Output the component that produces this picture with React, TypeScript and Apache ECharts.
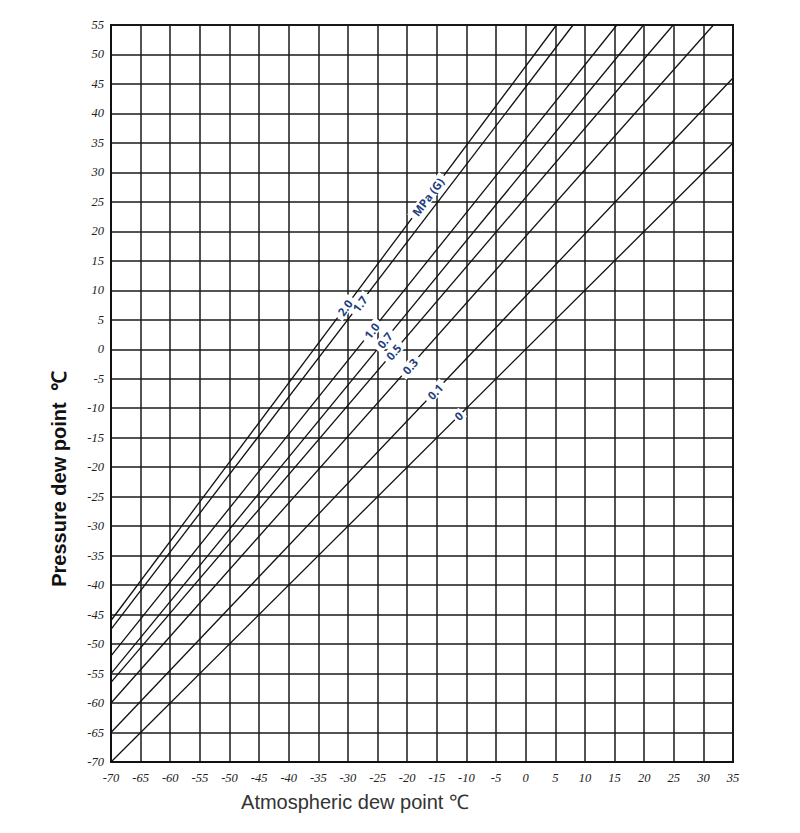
import { useEffect, useRef } from 'react'
import * as echarts from 'echarts'

// pressure lines, MPa (G)
const pressures = ['0', '0.1', '0.3', '0.5', '0.7', '1.0', '1.7', '2.0']
// pressure dew point where each line starts (atmospheric dew point -70)
const startDew = [-70, -65, -60, -56.5, -55, -52, -47.5, -46]
// where each line leaves the plot
const endAtm = [35, 35, 31.7, 24.9, 19.9, 15.4, 8.0, 5.2]
const endDew = [35, 46, 55, 55, 55, 55, 55, 55]
// atmospheric dew point at which the label sits on each line
const labelAtm = [-11.3, -15.3, -19.5, -22.3, -23.8, -26, -28, -30.5]
const unitLabel = 'MPa (G)'
const unitAtm = -16.5

const X_MIN = -70
const X_MAX = 35
const Y_MIN = -70
const Y_MAX = 55

const onLine = (i: number, x: number) => {
  const k = (endDew[i] - startDew[i]) / (endAtm[i] - X_MIN)
  return startDew[i] + (x - X_MIN) * k
}

export default function App() {
  const chartRef = useRef<HTMLDivElement>(null)

  useEffect(() => {
    if (!chartRef.current) return
    const chart = echarts.init(chartRef.current, null, { renderer: 'svg' })

    const lineSeries = pressures.map((p, i) => ({
      name: p,
      type: 'line',
      symbol: 'none',
      silent: true,
      lineStyle: { color: '#111', width: 1.3 },
      data: [
        [X_MIN, startDew[i]],
        [endAtm[i], endDew[i]],
      ],
      z: 2,
    }))

    const tickLabel = {
      fontStyle: 'italic' as const,
      fontFamily: 'Liberation Serif',
      fontSize: 12.5,
      color: '#222',
    }

    const option: any = {
      animation: false,
      grid: {
        left: 111,
        right: 67,
        top: 25,
        bottom: 71,
        show: true,
        borderColor: '#111',
        borderWidth: 2,
        backgroundColor: '#fff',
      },
      xAxis: {
        type: 'value',
        min: X_MIN,
        max: X_MAX,
        interval: 5,
        axisLine: { show: true, onZero: false, lineStyle: { color: '#111', width: 2 } },
        axisTick: { show: false },
        axisLabel: { ...tickLabel, margin: 9 },
        splitLine: { show: true, lineStyle: { color: '#1a1a1a', width: 1.5 } },
      },
      yAxis: {
        type: 'value',
        min: Y_MIN,
        max: Y_MAX,
        interval: 5,
        axisLine: { show: true, onZero: false, lineStyle: { color: '#111', width: 2 } },
        axisTick: { show: false },
        axisLabel: { ...tickLabel, margin: 7 },
        splitLine: { show: true, lineStyle: { color: '#1a1a1a', width: 1.5 } },
      },
      series: lineSeries,
    }

    chart.setOption(option)

    // line labels: white box breaking the line, blue text along it
    const makeLabel = (i: number, atm: number, text: string) => {
      const c = chart.convertToPixel({ gridIndex: 0 }, [atm, onLine(i, atm)]) as number[]
      const a = chart.convertToPixel({ gridIndex: 0 }, [X_MIN, startDew[i]]) as number[]
      const b = chart.convertToPixel({ gridIndex: 0 }, [endAtm[i], endDew[i]]) as number[]
      const angle = Math.atan2(a[1] - b[1], b[0] - a[0])
      const w = text.length * 7 + 4
      return {
        type: 'group',
        x: c[0],
        y: c[1],
        rotation: angle,
        z: 50,
        children: [
          {
            type: 'rect',
            z: 50,
            shape: { x: -w / 2, y: -6, width: w, height: 12 },
            style: { fill: '#ffffff' },
          },
          {
            type: 'text',
            z: 51,
            style: {
              text,
              x: 0,
              y: 0,
              font: 'bold 11.5px "Open Sans", sans-serif',
              fill: '#1f3f7f',
              textAlign: 'center',
              textVerticalAlign: 'middle',
            },
          },
        ],
      }
    }

    const labels: any[] = pressures.map((p, i) => makeLabel(i, labelAtm[i], p))
    labels.push(makeLabel(pressures.length - 1, unitAtm, unitLabel))

    chart.setOption({
      graphic: [
        {
          type: 'text',
          x: 59,
          y: 479,
          rotation: Math.PI / 2,
          style: {
            text: 'Pressure dew point  \u2103',
            font: 'bold 20px "Liberation Sans", Arial, sans-serif',
            fill: '#111',
            textAlign: 'center',
            textVerticalAlign: 'middle',
          },
        },
        {
          type: 'text',
          x: 355,
          y: 802,
          style: {
            text: 'Atmospheric dew point \u2103',
            font: '20px "Liberation Sans", Arial, sans-serif',
            fill: '#333',
            textAlign: 'center',
            textVerticalAlign: 'middle',
          },
        },
        ...labels,
      ],
    })

    return () => {
      chart.dispose()
    }
  }, [])

  return (
    <div
      ref={chartRef}
      style={{ position: 'absolute', left: 0, top: 0, width: 800, height: 833, background: '#fff' }}
    />
  )
}
